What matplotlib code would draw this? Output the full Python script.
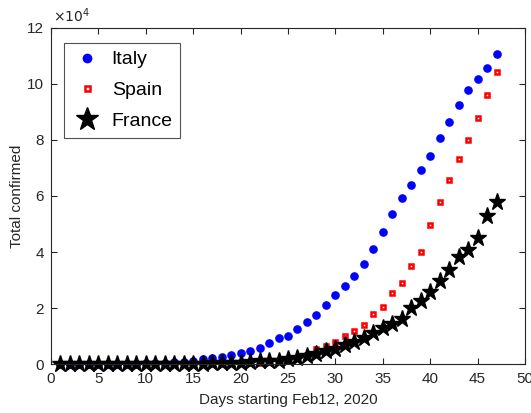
import numpy as np
import matplotlib
matplotlib.use("Agg")
import matplotlib.pyplot as plt

plt.rcParams['font.family'] = ['Liberation Sans', 'DejaVu Sans']

days = list(range(1, 48))
italy = [3, 3, 3, 3, 3, 3, 20, 62, 155, 229, 322, 453, 655, 888, 1128, 1694, 2036,
         2502, 3089, 3858, 4636, 5883, 7375, 9172, 10149, 12462, 15113, 17660, 21157,
         24747, 27980, 31506, 35713, 41035, 47021, 53578, 59138, 63927, 69176, 74386,
         80589, 86498, 92472, 97689, 101739, 105792, 110574]
spain = [2, 2, 2, 2, 2, 2, 2, 2, 2, 2, 6, 13, 15, 32, 45, 84, 120, 165, 222, 259,
         400, 500, 673, 1073, 1695, 2277, 3146, 5232, 6391, 7798, 9942, 11748, 13910,
         17963, 20410, 25374, 28768, 35136, 39885, 49515, 57786, 65719, 73235, 80110,
         87956, 95923, 104118]
france = [12, 12, 12, 12, 12, 12, 12, 12, 12, 12, 12, 18, 38, 57, 100, 130, 191,
          204, 288, 380, 656, 959, 1136, 1219, 1794, 2293, 2876, 3681, 4496, 5423,
          6683, 7715, 9124, 10970, 12758, 14463, 16243, 20123, 22622, 25600, 29551,
          33402, 38105, 40708, 45170, 52827, 57749]

xticks = [0, 5, 10, 15, 20, 25, 30, 35, 40, 45, 50]
yticks = [0, 20000, 40000, 60000, 80000, 100000, 120000]
ytick_labels = ['0', '2', '4', '6', '8', '10', '12']

W, H = 531, 413
fig = plt.figure(figsize=(W / 100, H / 100), dpi=100)
ax = fig.add_axes([51 / W, 1 - 364 / H, (525 - 51) / W, (364 - 28) / H])

gray = '#262626'
ax.plot(days, italy, linestyle='none', marker='o', markersize=5.2,
        color='blue', label='Italy', clip_on=False)
ax.plot(days, spain, linestyle='none', marker='s', markersize=3.4,
        markerfacecolor='white', markeredgecolor='red', markeredgewidth=1.8,
        label='Spain', clip_on=False)
ax.plot(days, france, linestyle='none', marker='*', markersize=12.5,
        color='black', label='France', clip_on=False)

ax.set_xlim(0, 50)
ax.set_ylim(0, 120000)
ax.set_xticks(xticks)
ax.set_yticks(yticks)
ax.set_yticklabels(ytick_labels)
ax.tick_params(direction='in', top=True, right=True, length=4, width=0.8,
               colors=gray, labelsize=11, labelcolor=gray)
ax.tick_params(axis='x', pad=6)
ax.tick_params(axis='y', pad=5)
for s in ax.spines.values():
    s.set_color(gray)
    s.set_linewidth(0.8)

ax.text(0.005, 1.01, r'$\times10^{4}$', transform=ax.transAxes, fontsize=10,
        color=gray, ha='left', va='bottom')
ax.set_xlabel('Days starting Feb12, 2020', fontsize=11, color=gray, labelpad=5)
ax.set_ylabel('Total confirmed', fontsize=11, color=gray)
ax.yaxis.set_label_coords(-0.056, 0.5)

leg = ax.legend(loc='upper left', bbox_to_anchor=(13 / 474, 1 - 15 / 336),
                fontsize=14, frameon=True, fancybox=False, edgecolor=gray,
                borderpad=0.4, labelspacing=0.68, handletextpad=0.45,
                handlelength=1.6, borderaxespad=0)
leg.get_frame().set_linewidth(0.8)
hs = leg.legend_handles
hs[0].set_markersize(6)
hs[1].set_markersize(3.6)
hs[2].set_markersize(17)

fig.savefig('out.png', dpi=100)
